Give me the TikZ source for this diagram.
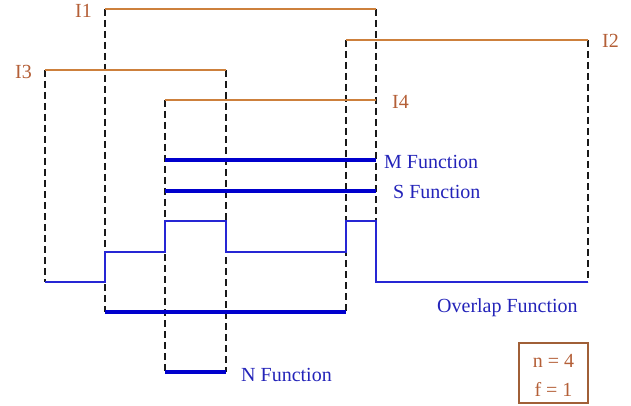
\documentclass[tikz,border=0pt]{standalone}
\usepackage{fontspec}
\setmainfont{Liberation Serif}
\usepackage{tikz}
\definecolor{ivline}{RGB}{205,128,60}
\definecolor{ivtext}{RGB}{180,95,55}
\definecolor{fnblue}{RGB}{0,0,205}
\definecolor{fntext}{RGB}{35,35,185}
\definecolor{boxbrown}{RGB}{160,95,55}
\tikzset{
	guide/.style={black!90, line width=1.2pt, dash pattern=on 7pt off 4pt},
	ivl/.style={ivline, line width=1.3pt},
	fnthick/.style={fnblue, line width=4.3pt},
	fnthin/.style={fnblue!85!white, line width=1.3pt},
	ivlabel/.style={ivtext, anchor=base west, inner sep=0pt, font=\fontsize{20}{24}\selectfont},
	fnlabel/.style={fntext, anchor=base west, inner sep=0pt, font=\fontsize{20}{24}\selectfont}
}

\begin{document}
\begin{tikzpicture}[x=1pt, y=-1pt]
			%%%%% START %%%%%
			\useasboundingbox (0, 0) rectangle (631, 406);
			
			% dashed guides
			\draw[guide] (45, 70) -- (45, 282);
			\draw[guide] (105, 9) -- (105, 312);
			\draw[guide] (165, 100) -- (165, 372);
			\draw[guide] (226, 70) -- (226, 372);
			\draw[guide] (346, 40) -- (346, 312);
			\draw[guide] (376, 9) -- (376, 221);
			\draw[guide] (588, 40) -- (588, 282);
			
			% intervals
			\draw[ivl] (105, 9) -- (376, 9);
			\draw[ivl] (346, 40) -- (588, 40);
			\draw[ivl] (45, 70) -- (226, 70);
			\draw[ivl] (165, 100) -- (376, 100);
			
			\node[ivlabel] (i1) at (75, 18) {I1};
			\node[ivlabel] (i2) at (602, 48) {I2};
			\node[ivlabel] (i3) at (15, 79) {I3};
			\node[ivlabel] (i4) at (392, 109) {I4};
			
			% functions
			\draw[fnthick] (165, 160) -- (376, 160);
			\draw[fnthick] (165, 191) -- (376, 191);
			\draw[fnthin] (45, 282) -- (105, 282) -- (105, 252) -- (165, 252) -- (165, 221) -- (226, 221) -- (226, 252) -- (346, 252) -- (346, 221) -- (376, 221) -- (376, 282) -- (588, 282);
			\draw[fnthick] (105, 312) -- (346, 312);
			\draw[fnthick] (165, 372) -- (226, 372);
			
			\node[fnlabel] (mfn) at (384, 168) {M Function};
			\node[fnlabel] (sfn) at (393, 198) {S Function};
			\node[fnlabel] (ofn) at (437, 312) {Overlap Function};
			\node[fnlabel] (nfn) at (241, 381) {N Function};
			
			% parameters
			\draw[boxbrown, line width=1.2pt] (519, 343) rectangle (588, 403);
			\node[ivlabel, anchor=base] (nval) at (553.5, 367) {n = 4};
			\node[ivlabel, anchor=base] (fval) at (553.5, 396) {f = 1};
			%%%%% END %%%%%
		\end{tikzpicture}
\end{document}
